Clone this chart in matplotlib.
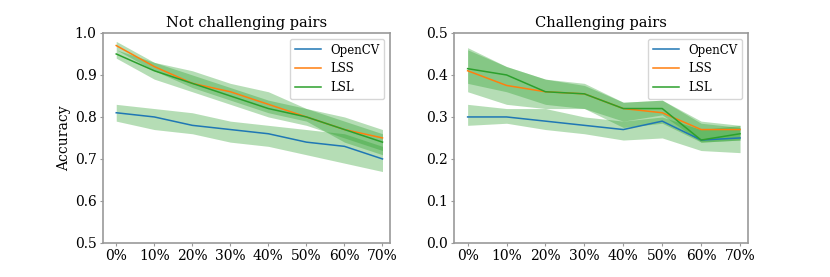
import numpy as np
import matplotlib
matplotlib.use('Agg')
import matplotlib.pyplot as plt

plt.rcParams['font.family'] = 'DejaVu Serif'
plt.rcParams['font.size'] = 10

### Data
noise = ['0%', '10%', '20%', '30%', '40%', '50%', '60%', '70%']
methods = ['OpenCV', 'LSS', 'LSL']

### Not challenging pairs
nc_mean = {
    'OpenCV': [0.81, 0.80, 0.78, 0.77, 0.76, 0.74, 0.73, 0.70],
    'LSS':    [0.97, 0.92, 0.88, 0.86, 0.83, 0.80, 0.77, 0.75],
    'LSL':    [0.95, 0.91, 0.88, 0.85, 0.82, 0.80, 0.77, 0.74],
}
nc_low = {
    'OpenCV': [0.79, 0.77, 0.76, 0.74, 0.73, 0.71, 0.69, 0.67],
    'LSS':    [0.96, 0.91, 0.87, 0.84, 0.81, 0.79, 0.74, 0.71],
    'LSL':    [0.94, 0.89, 0.86, 0.83, 0.80, 0.78, 0.75, 0.72],
}
nc_high = {
    'OpenCV': [0.83, 0.82, 0.81, 0.79, 0.78, 0.77, 0.76, 0.73],
    'LSS':    [0.98, 0.93, 0.91, 0.88, 0.86, 0.82, 0.80, 0.77],
    'LSL':    [0.96, 0.93, 0.90, 0.87, 0.84, 0.82, 0.79, 0.76],
}

### Challenging pairs
c_mean = {
    'OpenCV': [0.30, 0.30, 0.29, 0.28, 0.27, 0.29, 0.245, 0.25],
    'LSS':    [0.41, 0.375, 0.36, 0.355, 0.32, 0.31, 0.27, 0.27],
    'LSL':    [0.415, 0.40, 0.36, 0.355, 0.32, 0.32, 0.245, 0.26],
}
c_low = {
    'OpenCV': [0.28, 0.285, 0.27, 0.26, 0.245, 0.25, 0.22, 0.215],
    'LSS':    [0.36, 0.33, 0.32, 0.32, 0.275, 0.285, 0.24, 0.245],
    'LSL':    [0.38, 0.36, 0.33, 0.32, 0.29, 0.305, 0.24, 0.245],
}
c_high = {
    'OpenCV': [0.33, 0.32, 0.32, 0.30, 0.29, 0.30, 0.27, 0.28],
    'LSS':    [0.46, 0.42, 0.39, 0.38, 0.335, 0.34, 0.29, 0.28],
    'LSL':    [0.465, 0.42, 0.39, 0.375, 0.335, 0.34, 0.285, 0.275],
}

colors = {'OpenCV': 'C0', 'LSS': 'C1', 'LSL': 'C2'}

fig = plt.figure(figsize=(8.3, 2.77), dpi=100)
ax1 = fig.add_axes([0.124, 0.123, 0.346, 0.758])
ax2 = fig.add_axes([0.547, 0.123, 0.354, 0.758])

x = np.arange(len(noise))

def draw(ax, mean, low, high, title, ylim, yticks):
    for m in methods:
        ax.plot(x, mean[m], color=colors[m], label=m, linewidth=1.1)
        ax.fill_between(x, low[m], high[m], color='C2', alpha=0.35, linewidth=0)
    ax.set_title(title, fontsize=10.5, pad=4)
    ax.set_ylim(*ylim)
    ax.set_yticks(yticks)
    ax.set_xticks(x)
    ax.set_xticklabels(noise)
    ax.set_xlim(-0.35, 7.2)
    for sp in ax.spines.values():
        sp.set_color('#999999')
        sp.set_linewidth(1.2)
    ax.tick_params(color='#999999', length=2.5, pad=2)
    ax.legend(loc='upper right', fontsize=8.5, handlelength=2.2)

draw(ax1, nc_mean, nc_low, nc_high, 'Not challenging pairs', (0.5, 1.0),
     [0.5, 0.6, 0.7, 0.8, 0.9, 1.0])
ax1.set_ylabel('Accuracy', labelpad=3)
draw(ax2, c_mean, c_low, c_high, 'Challenging pairs', (0.0, 0.5),
     [0.0, 0.1, 0.2, 0.3, 0.4, 0.5])

plt.savefig('out.png', dpi=100)
